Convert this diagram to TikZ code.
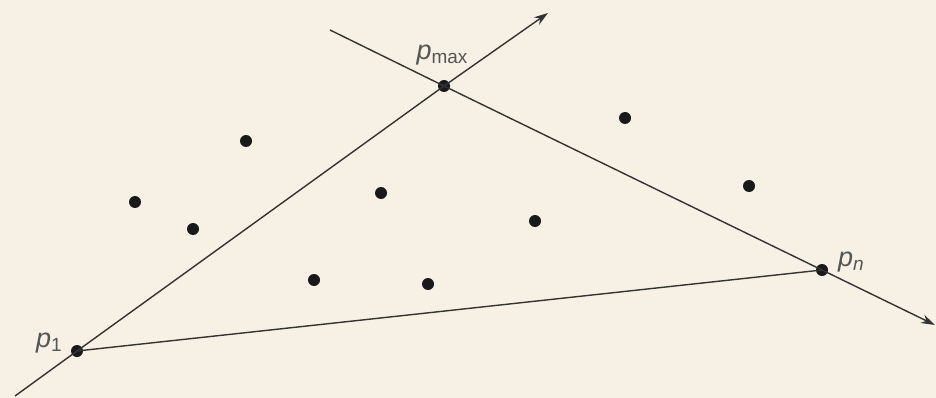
\documentclass[tikz,border=0pt]{standalone}
\usepackage{fontspec}
\setmainfont{Liberation Sans}
\usetikzlibrary{arrows.meta}
\definecolor{paper}{HTML}{F6F1E4}
\definecolor{ink}{HTML}{333333}
\definecolor{labelink}{HTML}{555555}
\begin{document}
\begin{tikzpicture}[x=1pt,y=-1pt,
  pt/.style={circle,fill=black!90,inner sep=0pt,minimum size=12pt},
  seg/.style={draw=ink,line width=1.4pt},
  lbl/.style={text=labelink,font=\fontsize{27}{30}\selectfont,inner sep=0pt},
  tip/.style={-{Stealth[length=14pt,width=9pt]}}]
\fill[paper] (0,0) rectangle (936,398);
\useasboundingbox (0,0) rectangle (936,398);
% hull points
\node[pt] (p1) at (77,351) {};
\node[pt] (pmax) at (444,86) {};
\node[pt] (pn) at (822,270) {};
% other points
\node[pt] (a) at (246,141) {};
\node[pt] (b) at (135,202) {};
\node[pt] (c) at (193,229) {};
\node[pt] (d) at (381,193) {};
\node[pt] (e) at (314,280) {};
\node[pt] (f) at (428,284) {};
\node[pt] (g) at (535,221) {};
\node[pt] (h) at (625,118) {};
\node[pt] (i) at (749,186) {};
% line ends
\coordinate (s1) at (15,396);
\coordinate (e1) at (548,13);
\coordinate (s2) at (330,30);
\coordinate (e2) at (935,325);
% lines
\draw[seg,tip] (s1) -- (p1.center) -- (pmax.center) -- (e1);
\draw[seg,tip] (s2) -- (pmax.center) -- (pn.center) -- (e2);
\draw[seg] (p1.center) -- (pn.center);
% labels
\node[lbl] (l1) at (49,343) {\textit{p}\raisebox{-0.3ex}{\fontsize{19}{22}\selectfont 1}};
\node[lbl] (lmax) at (442,55) {\textit{p}\raisebox{-0.3ex}{\fontsize{19}{22}\selectfont max}};
\node[lbl] (ln) at (851,262) {\textit{p}\raisebox{-0.3ex}{\fontsize{19}{22}\selectfont \textit{n}}};
\end{tikzpicture}
\end{document}
